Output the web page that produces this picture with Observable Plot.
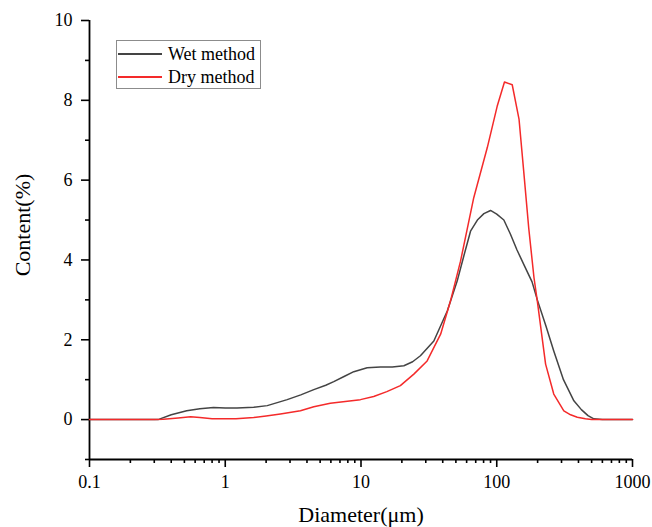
<!DOCTYPE html>
<html>
<head>
<meta charset="utf-8">
<script src="https://cdn.jsdelivr.net/npm/d3@7"></script>
<script src="https://cdn.jsdelivr.net/npm/@observablehq/plot@0.6"></script>
<style>
  html, body { margin: 0; padding: 0; background: #fff; }
  #wrap { position: relative; width: 652px; height: 527px; font-family: "Liberation Serif", "Times New Roman", serif; }
  #legend { position: absolute; left: 116px; top: 40px; width: 143px; height: 47px; border: 1px solid #8c8c8c; background: #fff; font-size: 18px; }
  .row { position: absolute; left: 1px; height: 22px; display: flex; align-items: center; }
  .row .sw { width: 44px; height: 0; border-top: 2px solid; margin-right: 6px; }
</style>
</head>
<body>
<div id="wrap"></div>
<script>
// Wet method
const wetDiameter = [0.1, 0.2, 0.3, 0.32, 0.4, 0.52, 0.65, 0.82, 1.0, 1.22, 1.62, 2.04, 2.86, 3.6, 4.49, 5.5, 6.3, 7.5, 8.85, 11.1, 13.9, 17, 20.7, 24, 27.4, 34.4, 43.2, 51.1, 57.2, 64.1, 72, 80.4, 90, 100, 112.8, 126, 141, 160, 182, 199, 230, 263, 310, 370, 420, 470, 519, 600, 800, 1000];
const wetContent  = [0, 0, 0, 0, 0.12, 0.22, 0.27, 0.3, 0.29, 0.29, 0.31, 0.35, 0.5, 0.62, 0.75, 0.86, 0.95, 1.08, 1.2, 1.3, 1.32, 1.32, 1.35, 1.45, 1.6, 1.97, 2.72, 3.47, 4.1, 4.72, 5.0, 5.16, 5.24, 5.15, 5.0, 4.65, 4.25, 3.85, 3.45, 3.0, 2.35, 1.72, 1.0, 0.47, 0.25, 0.1, 0.02, 0, 0, 0];
// Dry method
const dryDiameter = [0.1, 0.3, 0.35, 0.45, 0.555, 0.65, 0.8, 1.0, 1.2, 1.62, 2.0, 2.55, 3.58, 4.49, 5.94, 7.94, 9.9, 12.4, 15.5, 19.5, 24.5, 30.7, 38.6, 45.6, 54.1, 67.7, 85.1, 100.7, 114, 130, 146, 158, 172, 188, 199, 229, 263, 312, 350, 392, 450, 500, 1000];
const dryContent  = [0, 0, 0.01, 0.04, 0.07, 0.05, 0.02, 0.02, 0.02, 0.05, 0.09, 0.14, 0.22, 0.32, 0.41, 0.46, 0.5, 0.58, 0.7, 0.85, 1.14, 1.47, 2.14, 2.97, 3.97, 5.56, 6.81, 7.85, 8.46, 8.39, 7.52, 6.22, 4.8, 3.56, 2.97, 1.39, 0.64, 0.22, 0.12, 0.06, 0.02, 0, 0];

const seriesNames = ["Wet method", "Dry method"];
const seriesColors = ["#444444", "#f42a2a"];

const xMajor = [0.1, 1, 10, 100, 1000];
const xMinor = [];
for (const dec of [0.1, 1, 10, 100]) for (let k = 2; k <= 9; k++) xMinor.push(+(dec * k).toPrecision(3));
const yMajor = [0, 2, 4, 6, 8, 10];
const yMinor = [-1, 1, 3, 5, 7, 9];

const wet = wetDiameter.map((d, i) => ({d, v: wetContent[i]}));
const dry = dryDiameter.map((d, i) => ({d, v: dryContent[i]}));

const chart = Plot.plot({
  width: 652,
  height: 527,
  marginLeft: 89,
  marginRight: 20,
  marginTop: 20,
  marginBottom: 68,
  style: {fontFamily: "'Liberation Serif', 'Times New Roman', serif", fontSize: "18px", background: "#fff", color: "#000"},
  x: {type: "log", domain: [0.1, 1000]},
  y: {domain: [-1, 10]},
  marks: [
    Plot.axisX(xMajor, {tickSize: 8, tickPadding: 8, tickFormat: d => String(d), fontSize: 18, label: null, strokeWidth: 1.6}),
    Plot.axisX(xMinor, {tickSize: 4, text: null, label: null, strokeWidth: 1.6}),
    Plot.axisY(yMajor, {tickSize: 8, tickPadding: 9, tickFormat: d => String(d), fontSize: 18, label: null, strokeWidth: 1.6}),
    Plot.axisY(yMinor, {tickSize: 4, text: null, label: null, strokeWidth: 1.6}),
    Plot.ruleY([-1], {stroke: "#000", strokeWidth: 1.8}),
    Plot.ruleX([0.1], {stroke: "#000", strokeWidth: 1.8}),
    Plot.line(wet, {x: "d", y: "v", stroke: seriesColors[0], strokeWidth: 1.5}),
    Plot.line(dry, {x: "d", y: "v", stroke: seriesColors[1], strokeWidth: 1.5}),
    Plot.text(["Content(%)"], {frameAnchor: "left", textAnchor: "middle", rotate: -90, dx: -67, dy: -15, fontSize: 22, fill: "#000"}),
    Plot.text(["Diameter(μm)"], {frameAnchor: "bottom", textAnchor: "middle", dy: 62, fontSize: 22, fill: "#000"})
  ]
});

const wrap = document.getElementById("wrap");
wrap.appendChild(chart);

const legend = document.createElement("div");
legend.id = "legend";
seriesNames.forEach((name, i) => {
  const row = document.createElement("div");
  row.className = "row";
  row.style.top = (2 + i * 23) + "px";
  const sw = document.createElement("span");
  sw.className = "sw";
  sw.style.borderColor = seriesColors[i];
  const t = document.createElement("span");
  t.textContent = name;
  row.appendChild(sw);
  row.appendChild(t);
  legend.appendChild(row);
});
wrap.appendChild(legend);
</script>
</body>
</html>
